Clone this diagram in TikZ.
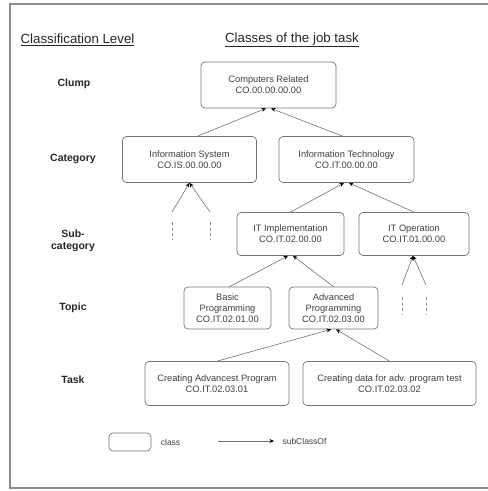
\documentclass[tikz,border=0pt]{standalone}
\usepackage{fontspec}
\setmainfont{Liberation Sans}
\usetikzlibrary{arrows.meta, positioning}

\begin{document}
\begin{tikzpicture}[
        x=1pt, y=-1pt,
        header/.style={font=\fontsize{13.3}{15}\selectfont, text=black!85},
        level/.style={font=\bfseries\fontsize{10.5}{12.5}\selectfont, align=center, text=black!85},
        class/.style={rectangle, draw=black!55, rounded corners=4pt, line width=0.7pt,
                      align=center, font=\fontsize{9.3}{11}\selectfont, text=black!75,
                      inner sep=1pt},
        arrow/.style={draw=black!55, line width=0.6pt, -{Stealth[length=4.5pt, width=4pt, color=black]}},
        stub/.style={draw=black!45, line width=0.6pt, dash pattern=on 3pt off 2.5pt}
    ]
        \useasboundingbox (0,0) rectangle (488,491);
        % frame
        \draw[black!45, line width=1.3pt] (500,4) -- (10,4) -- (10,488) -- (500,488);

        % headers and levels
        \node[header] (hdrlevel) at (77.5,40) {\underline{Classification Level}};
        \node[header] (hdrclass) at (292,40) {\underline{Classes of the job task}};
        \node[level] (lvlclump) at (74,84) {Clump};
        \node[level] (lvlcat) at (73,159) {Category};
        \node[level] (lvlsub) at (73,241) {Sub-\\category};
        \node[level] (lvltopic) at (73,308) {Topic};
        \node[level] (lvltask) at (73,380) {Task};

        % classes
        \node[class, minimum width=135, minimum height=46] (comprel) at (268.5,85) {Computers Related\\CO.00.00.00.00};
        \node[class, minimum width=134, minimum height=46] (infsys) at (189.5,159.5) {Information System\\CO.IS.00.00.00};
        \node[class, minimum width=135, minimum height=46] (inftech) at (346.5,159.5) {Information Technology\\CO.IT.00.00.00};
        \node[class, minimum width=107, minimum height=43] (itimpl) at (290.5,234) {IT Implementation\\CO.IT.02.00.00};
        \node[class, minimum width=110, minimum height=43] (itop) at (414,234) {IT Operation\\CO.IT.01.00.00};
        \node[class, minimum width=87, minimum height=42] (basicprog) at (227.5,308) {Basic\\Programming\\CO.IT.02.01.00};
        \node[class, minimum width=89, minimum height=42] (advprog) at (333.5,308) {Advanced\\Programming\\CO.IT.02.03.00};
        \node[class, minimum width=144, minimum height=44] (advtask) at (217,383.5) {Creating Advancest Program\\CO.IT.02.03.01};
        \node[class, minimum width=173, minimum height=44] (datatask) at (389.5,383.5) {Creating data for adv. program test\\CO.IT.02.03.02};

        % subClassOf links
        \draw[arrow] (infsys.north) ++(8,0) -- ([xshift=-2.5]comprel.south);
        \draw[arrow] (inftech.north) ++(-4,0) -- ([xshift=2.5]comprel.south);
        \draw[arrow] (itimpl.north) -- ([xshift=-2.5]inftech.south);
        \draw[arrow] (itop.north) -- ([xshift=2.5]inftech.south);
        \draw[arrow] (basicprog.north) ++(2,0) -- ([xshift=-2.5]itimpl.south);
        \draw[arrow] (advprog.north) -- ([xshift=2.5]itimpl.south);
        \draw[arrow] (advtask.north) -- ([xshift=-2.5]advprog.south);
        \draw[arrow] (datatask.north) -- ([xshift=2.5]advprog.south);

        % open branches
        \coordinate (isleft) at (172,212);
        \coordinate (isright) at (210,212);
        \coordinate (opleft) at (402,285);
        \coordinate (opright) at (426,285);
        \draw[arrow] (isleft) -- (infsys.south);
        \draw[arrow] (isright) -- (infsys.south);
        \draw[arrow] (opleft) -- ([xshift=-1]itop.south);
        \draw[arrow] (opright) -- ([xshift=-1]itop.south);
        \draw[stub] (isleft) ++(0,10) -- ++(0,18);
        \draw[stub] (isright) ++(0,10) -- ++(0,18);
        \draw[stub] (opleft) ++(0,12) -- ++(0,17);
        \draw[stub] (opright) ++(0,12) -- ++(0,17);

        % legend
        \node[class, minimum width=42, minimum height=18] (legclass) at (130,442) {};
        \node[font=\fontsize{8.5}{10}\selectfont, text=black!75, right=6pt of legclass] (legclasstxt) {class};
        \coordinate (legfrom) at (218,441);
        \coordinate (legto) at (274,441);
        \draw[arrow] (legfrom) -- (legto);
        \node[font=\fontsize{8.5}{10}\selectfont, text=black!75, right=5pt of legto] (legsubtxt) {subClassOf};
\end{tikzpicture}
\end{document}
